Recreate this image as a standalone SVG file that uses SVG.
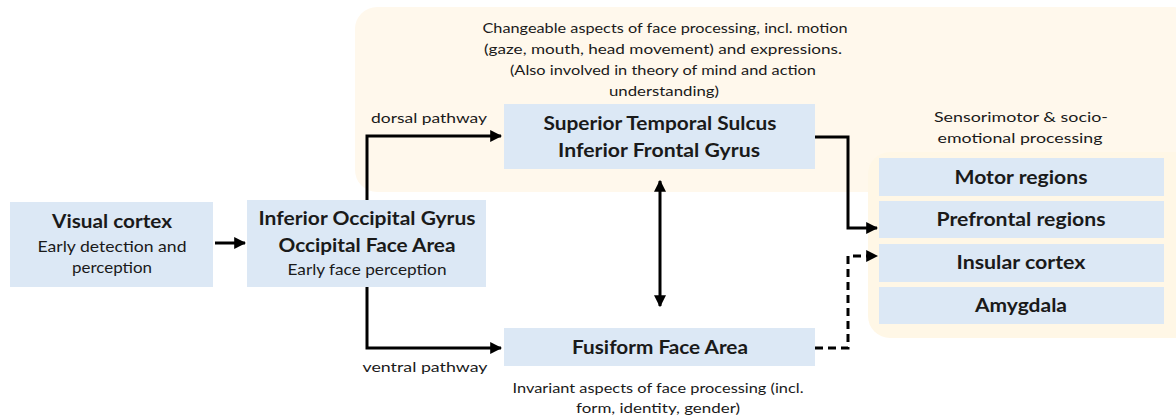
<svg xmlns="http://www.w3.org/2000/svg" width="1176" height="419" viewBox="0 0 1176 419">
<defs>
<style>
.bg{fill:#fff8ec}
.bg2{fill:#fff7e6}
.box{fill:#dce8f5}
.t{font-family:Lato,"Open Sans","Liberation Sans",sans-serif;fill:#1a1a1a;text-anchor:middle}
.b{font-weight:bold;font-size:18px}
.r{font-size:15px}
.s{font-size:14px}
.c{fill:none;stroke:#000;stroke-width:3}
.d{stroke-dasharray:8 5}
</style>
<marker id="ah" viewBox="0 0 10 10" refX="9" refY="5" markerWidth="4" markerHeight="4" orient="auto-start-reverse" markerUnits="strokeWidth">
<path d="M0,0 L10,5 L0,10 z" fill="#000"/>
</marker>
</defs>
<rect width="1176" height="419" fill="#fff"/>
<g id="background">
<rect class="bg" x="355" y="7" width="840" height="185" rx="22"/>
<rect class="bg2" x="868" y="152" width="330" height="186" rx="22"/>
</g>
<g id="annotations">
<text class="t s" x="665" y="33" textLength="365" lengthAdjust="spacingAndGlyphs">Changeable aspects of face processing, incl. motion</text>
<text class="t s" x="663" y="54" textLength="358" lengthAdjust="spacingAndGlyphs">(gaze, mouth, head movement) and expressions.</text>
<text class="t s" x="663" y="75" textLength="306" lengthAdjust="spacingAndGlyphs">(Also involved in theory of mind and action</text>
<text class="t s" x="664" y="96" textLength="110" lengthAdjust="spacingAndGlyphs">understanding)</text>
<text class="t s" x="429" y="123" textLength="116" lengthAdjust="spacingAndGlyphs">dorsal pathway</text>
<text class="t s" x="425" y="372" textLength="125" lengthAdjust="spacingAndGlyphs">ventral pathway</text>
<text class="t s" x="1021" y="122" textLength="174" lengthAdjust="spacingAndGlyphs">Sensorimotor &amp; socio-</text>
<text class="t s" x="1020" y="143" textLength="165" lengthAdjust="spacingAndGlyphs">emotional processing</text>
<text class="t s" x="658" y="393" textLength="291" lengthAdjust="spacingAndGlyphs">Invariant aspects of face processing (incl.</text>
<text class="t s" x="658" y="413" textLength="164" lengthAdjust="spacingAndGlyphs">form, identity, gender)</text>
</g>
<g id="node-visual-cortex">
<rect class="box" x="10" y="202" width="203" height="85"/>
<text class="t b" x="112" y="228" textLength="120" lengthAdjust="spacingAndGlyphs">Visual cortex</text>
<text class="t r" x="112" y="252" textLength="149" lengthAdjust="spacingAndGlyphs">Early detection  and</text>
<text class="t r" x="112" y="273" textLength="80" lengthAdjust="spacingAndGlyphs">perception</text>
</g>
<g id="node-iog">
<rect class="box" x="247" y="200" width="239" height="87"/>
<text class="t b" x="367" y="225" textLength="217" lengthAdjust="spacingAndGlyphs">Inferior Occipital Gyrus</text>
<text class="t b" x="367" y="252" textLength="177" lengthAdjust="spacingAndGlyphs">Occipital Face Area</text>
<text class="t r" x="367" y="275" textLength="159" lengthAdjust="spacingAndGlyphs">Early face perception</text>
</g>
<g id="node-sts">
<rect class="box" x="504" y="104" width="311" height="65"/>
<text class="t b" x="660" y="130" textLength="233" lengthAdjust="spacingAndGlyphs">Superior Temporal Sulcus</text>
<text class="t b" x="659" y="157" textLength="202" lengthAdjust="spacingAndGlyphs">Inferior Frontal Gyrus</text>
</g>
<g id="node-ffa">
<rect class="box" x="504" y="328" width="311" height="38"/>
<text class="t b" x="660" y="354" textLength="176" lengthAdjust="spacingAndGlyphs">Fusiform Face Area</text>
</g>
<g id="node-motor">
<rect class="box" x="879" y="158" width="285" height="38"/>
<text class="t b" x="1021" y="184" textLength="133" lengthAdjust="spacingAndGlyphs">Motor regions</text>
</g>
<g id="node-prefrontal">
<rect class="box" x="879" y="201" width="285" height="37"/>
<text class="t b" x="1021" y="226" textLength="169" lengthAdjust="spacingAndGlyphs">Prefrontal regions</text>
</g>
<g id="node-insular">
<rect class="box" x="879" y="244" width="285" height="38"/>
<text class="t b" x="1021" y="269" textLength="129" lengthAdjust="spacingAndGlyphs">Insular cortex</text>
</g>
<g id="node-amygdala">
<rect class="box" x="879" y="287" width="285" height="37"/>
<text class="t b" x="1021" y="312" textLength="92" lengthAdjust="spacingAndGlyphs">Amygdala</text>
</g>
<g id="connectors">
<path class="c" d="M215,243 H245" marker-end="url(#ah)"/>
<path class="c" d="M367,200 V136 H501" marker-end="url(#ah)"/>
<path class="c" d="M367,287 V348 H501" marker-end="url(#ah)"/>
<path class="c" d="M660,181 V306" marker-start="url(#ah)" marker-end="url(#ah)"/>
<path class="c" d="M815,137 H848 V228 H877" marker-end="url(#ah)"/>
<path class="c d" d="M815,348 H848 V256 H877" marker-end="url(#ah)"/>
</g>
</svg>
